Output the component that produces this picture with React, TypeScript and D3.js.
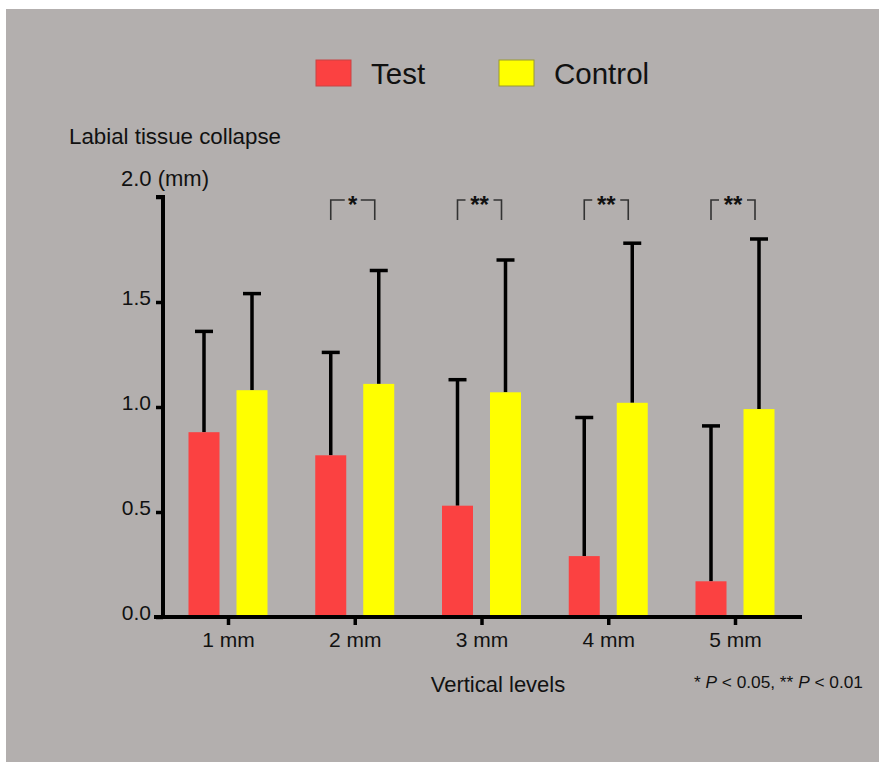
import React, { useEffect, useRef } from "react";
import * as d3 from "d3";

const categories = ["1 mm", "2 mm", "3 mm", "4 mm", "5 mm"];
const seriesNames = ["Test", "Control"];
const testMeans = [0.88, 0.77, 0.53, 0.29, 0.17];
const testErrTop = [1.36, 1.26, 1.13, 0.95, 0.91];
const controlMeans = [1.08, 1.11, 1.07, 1.02, 0.99];
const controlErrTop = [1.54, 1.65, 1.70, 1.78, 1.80];
const significance = ["", "*", "**", "**", "**"];
const yTicks = [0, 0.5, 1.0, 1.5, 2.0];

const COLORS = ["#fb4141", "#ffff00"];
const STROKES = ["#c84444", "#9a9a30"];

export default function App() {
  const ref = useRef<SVGSVGElement>(null);

  useEffect(() => {
    const svg = d3.select(ref.current);
    svg.selectAll("*").remove();
    const font = "Liberation Sans, Arial, Helvetica, sans-serif";

    svg.append("rect").attr("x", 6).attr("y", 9).attr("width", 873).attr("height", 753).attr("fill", "#b3afae");

    const y = d3.scaleLinear().domain([0, 2]).range([617, 197]);
    const x0 = d3.scalePoint<string>().domain(categories).range([228, 735]);
    const barW = 31;
    const offsets = [-24, 24];

    const g = svg.append("g");

    const series = [
      { means: testMeans, err: testErrTop },
      { means: controlMeans, err: controlErrTop },
    ];
    series.forEach((s, si) => {
      categories.forEach((c, i) => {
        const cx = (x0(c) as number) + offsets[si];
        g.append("line").attr("x1", cx).attr("x2", cx).attr("y1", y(s.means[i])).attr("y2", y(s.err[i]))
          .attr("stroke", "#000").attr("stroke-width", 3.5);
        g.append("line").attr("x1", cx - 9).attr("x2", cx + 9).attr("y1", y(s.err[i])).attr("y2", y(s.err[i]))
          .attr("stroke", "#000").attr("stroke-width", 3.5);
        g.append("rect").attr("x", cx - barW / 2).attr("y", y(s.means[i])).attr("width", barW)
          .attr("height", y(0) - y(s.means[i])).attr("fill", COLORS[si]);
      });
    });

    // y axis
    const yAxis = d3.axisLeft(y).tickValues(yTicks).tickSize(7).tickPadding(5)
      .tickFormat((d) => (d === 2 ? "" : d3.format(".1f")(d as number)));
    const ya = svg.append("g").attr("transform", "translate(163,0)").call(yAxis);
    ya.select(".domain").attr("stroke", "#000").attr("stroke-width", 4).attr("d", `M-7,${y(2)}H0V${y(0)}`);
    ya.selectAll(".tick line").attr("stroke", "#000").attr("stroke-width", 3.5);
    ya.selectAll(".tick text").attr("font-family", font).attr("font-size", 21).attr("fill", "#111")
      .attr("dy", "0.1em");

    // x axis
    const xAxis = d3.axisBottom(x0).tickSize(8).tickPadding(7);
    const xa = svg.append("g").attr("transform", `translate(0,${y(0)})`).call(xAxis);
    xa.select(".domain").attr("stroke", "#000").attr("stroke-width", 4).attr("d", "M154,0H802");
    xa.selectAll(".tick line").attr("stroke", "#000").attr("stroke-width", 3.5);
    xa.selectAll(".tick text").attr("font-family", font).attr("font-size", 21).attr("fill", "#111");

    // significance brackets
    categories.forEach((c, i) => {
      if (!significance[i]) return;
      const cx = (x0(c) as number) - 2;
      const half = 22;
      const top = 200, bot = 220;
      const gap = significance[i].length === 1 ? 8 : 14;
      const p = `M${cx - half},${bot}V${top}H${cx - gap} M${cx + gap},${top}H${cx + half}V${bot}`;
      svg.append("path").attr("d", p).attr("fill", "none").attr("stroke", "#333").attr("stroke-width", 1.6);
      svg.append("text").attr("x", cx).attr("y", 213).attr("text-anchor", "middle")
        .attr("font-family", font).attr("font-size", 24).attr("font-weight", "bold").attr("fill", "#111")
        .text(significance[i]);
    });

    svg.append("text").attr("x", 69).attr("y", 144).attr("font-family", font).attr("font-size", 22.3)
      .attr("fill", "#111").text("Labial tissue collapse");
    svg.append("text").attr("x", 121).attr("y", 186).attr("font-family", font).attr("font-size", 22)
      .attr("fill", "#111").text("2.0 (mm)");

    svg.append("text").attr("x", 498).attr("y", 692).attr("text-anchor", "middle").attr("font-family", font)
      .attr("font-size", 22).attr("fill", "#111").text("Vertical levels");

    const fn = svg.append("text").attr("x", 863).attr("y", 688).attr("text-anchor", "end")
      .attr("font-family", font).attr("font-size", 17.3).attr("fill", "#111");
    fn.append("tspan").text("* ");
    fn.append("tspan").attr("font-style", "italic").text("P");
    fn.append("tspan").text(" < 0.05, ** ");
    fn.append("tspan").attr("font-style", "italic").text("P");
    fn.append("tspan").text(" < 0.01");

    // legend
    const legX = [316, 499];
    seriesNames.forEach((n, i) => {
      svg.append("rect").attr("x", legX[i]).attr("y", 60).attr("width", 35).attr("height", 26)
        .attr("fill", COLORS[i]).attr("stroke", STROKES[i]).attr("stroke-width", 1);
      svg.append("text").attr("x", legX[i] + 55).attr("y", 84).attr("font-family", font).attr("font-size", 29.5)
        .attr("fill", "#111").text(n);
    });
  }, []);

  return (
    <div style={{ position: "fixed", left: 0, top: 0 }}>
      <svg ref={ref} width={880} height={762} style={{ display: "block", background: "#fff" }} />
    </div>
  );
}
